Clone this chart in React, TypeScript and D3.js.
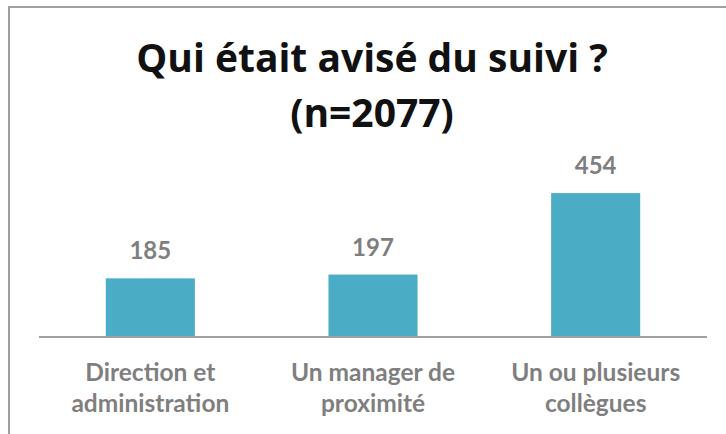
import React from "react";
import * as d3 from "d3";

const categories = [
  ["Direction et", "administration"],
  ["Un manager de", "proximité"],
  ["Un ou plusieurs", "collègues"],
];
const values = [185, 197, 454];
const titleLines = ["Qui était avisé du suivi ?", "(n=2077)"];

const W = 726;
const H = 434;
const font = "Lato, 'Open Sans', sans-serif";
const titleFont = "'Open Sans', Lato, sans-serif";

export default function App() {
  const x = d3
    .scaleBand<number>()
    .domain(d3.range(values.length))
    .range([39, 707])
    .paddingInner(0.6)
    .paddingOuter(0.3);
  const y = d3.scaleLinear().domain([0, 500]).range([337, 178.5]);

  return (
    <svg
      width={W}
      height={H}
      style={{ position: "absolute", left: 0, top: 0, background: "#fff" }}
    >
      <rect x={9} y={7} width={740} height={460} fill="#fff" stroke="#a0a0a0" strokeWidth={2} />
      <g fontFamily={titleFont} fontWeight="bold" textAnchor="middle" fill="#111">
        <text x={372} y={72} fontSize={39}>{titleLines[0]}</text>
        <text x={372} y={127} fontSize={39}>{titleLines[1]}</text>
      </g>
      {values.map((v, i) => (
        <g key={i}>
          <rect x={x(i)} y={y(v)} width={x.bandwidth()} height={y(0) - y(v)} fill="#4BACC6" />
          <text
            x={x(i)! + x.bandwidth() / 2}
            y={y(v) - 19}
            textAnchor="middle"
            fontFamily={font}
            fontWeight="bold"
            fontSize={24}
            fill="#7f7f7f"
          >
            {v}
          </text>
        </g>
      ))}
      <line x1={39} x2={707} y1={337} y2={337} stroke="#a0a0a0" strokeWidth={2} />
      {categories.map((lines, i) =>
        lines.map((t, j) => (
          <text
            key={i + "-" + j}
            x={x(i)! + x.bandwidth() / 2}
            y={381 + j * 31}
            textAnchor="middle"
            fontFamily={font}
            fontWeight="bold"
            fontSize={24.5}
            fill="#7f7f7f"
          >
            {t}
          </text>
        ))
      )}
    </svg>
  );
}
